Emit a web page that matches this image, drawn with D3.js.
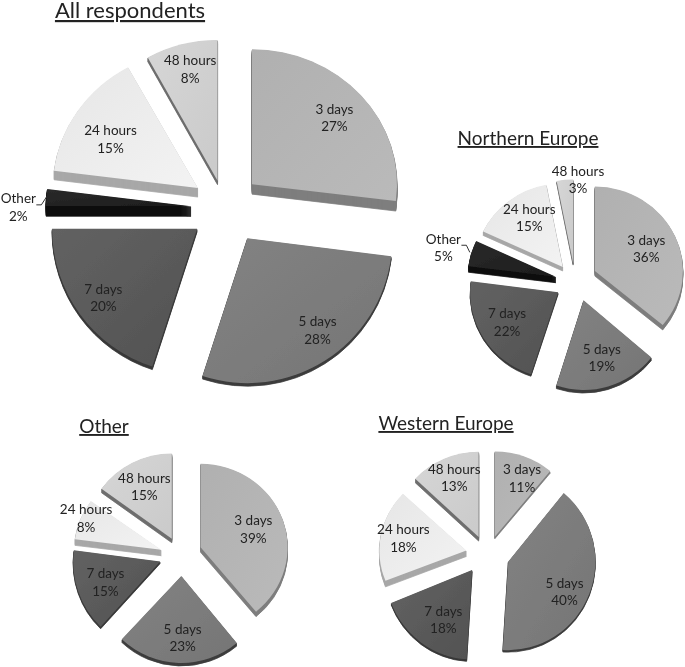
<!DOCTYPE html>
<html><head><meta charset="utf-8">
<script src="https://cdn.jsdelivr.net/npm/d3@7/dist/d3.min.js"></script>
<style>
html,body{margin:0;padding:0;background:#fff}
svg{display:block}
text{font-family:Lato,"Open Sans",sans-serif;fill:#222}
</style></head><body>
<svg id="chart" width="685" height="667"></svg>
<script>
const categories = ["3 days","5 days","7 days","Other","24 hours","48 hours"];
const allRespondents = [27,28,20,2,15,8];
const northernEurope = [36,19,22,5,15,3];
const otherRegion    = [39,23,15,0,8,15];
const westernEurope  = [11,40,18,0,18,13];

const topColors  = [["#b0b0b0","#bababa"],["#838383","#757575"],["#626262","#525252"],["#2a2a2a","#1c1c1c"],["#e6e6e6","#f3f3f3"],["#d6d6d6","#cacaca"]];
const sideColors = ["#7e7e7e","#3c3c3c","#383838","#0c0c0c","#a8a8a8","#6e6e6e"];

const pies = [
 {title:"All respondents",values:allRespondents,cx:222,cy:208,r:145,tilt:.94,titleX:130,titleY:18,titleSize:22,
  explode:[40,38,32,31,34,30],depth:[10,3,3,10,9,4],
  yScale:[.93,1,1,.94,.95,.97],shift:[[0,1],[5,0],[1,3],[0,0],[4,-2],[3,0]],
  nudge:[[15,-10],[27,20],[-20,22],[-83,6],[-9,-4],[-2,-30]]},
 {title:"Northern Europe",values:northernEurope,cx:575,cy:282,r:88,tilt:.95,titleX:528,titleY:145,titleSize:19,
  explode:[22,20,20,20,20,20],depth:[5,3,2,6,4,2],
  yScale:[.96,1.02,.98,.95,.95,.95],shift:[[0,-2],[3,0],[0,0],[0,0],[0,0],[0,0]],
  nudge:[[2,-3],[6,7],[-5,2],[-60,-15],[0,-9],[10,-32]]},
 {title:"Other",values:otherRegion,cx:180,cy:555,r:87,tilt:.95,titleX:104,titleY:433,titleSize:19,
  explode:[24,21,20,0,18,18],depth:[5,3,2,0,6,4],
  yScale:[.96,1,1.03,1,.95,.98],shift:[[-2,0],[2,1],[-1,0],[0,0],[-2,1],[0,-1]],
  nudge:[[0,-1],[5,11],[-5,3],[0,0],[-27,-12],[-3,-8]]},
 {title:"Western Europe",values:westernEurope,cx:485,cy:552,r:87,tilt:.95,titleX:446,titleY:430,titleSize:19,
  explode:[17,24,22,0,20,16],depth:[2,2,2,0,6,4],
  yScale:[.98,1.02,1.03,1,.95,.98],shift:[[4,0],[1,1],[0,1],[0,0],[1,2],[0,-1]],
  nudge:[[13,-11],[7,12],[3,9],[0,0],[-9,-1],[-3,-14]]}
];

const svg = d3.select("#chart");
const defs = svg.append("defs");
const blur = defs.append("filter").attr("id","soft").attr("x","-5%").attr("y","-5%").attr("width","110%").attr("height","110%");
blur.append("feGaussianBlur").attr("stdDeviation",.4);
topColors.forEach((c,i)=>{
  const g = defs.append("linearGradient").attr("id","top"+i).attr("x1","0").attr("y1","0").attr("x2","1").attr("y2","1");
  g.append("stop").attr("offset","0").attr("stop-color",c[0]);
  g.append("stop").attr("offset","1").attr("stop-color",c[1]);
});

const root = svg.append("g").attr("filter","url(#soft)");
const pieGen = d3.pie().sort(null).value(d=>d.value);

pies.forEach(p=>{
  const rows = categories.map((name,i)=>({name,value:p.values[i],i}));
  const arcs = pieGen(rows).filter(a=>a.value>0);
  const arc = d3.arc().innerRadius(0).outerRadius(p.r);
  const g = root.append("g");

  arcs.forEach(a=>{
    const i = a.data.i, mid = (a.startAngle+a.endAngle)/2;
    const sx = Math.sin(mid), sy = -Math.cos(mid)*p.tilt;
    const bx = p.cx+sx*p.explode[i], by = p.cy+sy*p.explode[i];
    const ax = bx+p.shift[i][0], ay = by+p.shift[i][1];
    const path = arc(a);
    d3.range(p.depth[i],0,-1).forEach(k=>{
      g.append("path").attr("d",path).attr("fill",sideColors[i])
        .attr("stroke",sideColors[i]).attr("stroke-width",.8)
        .attr("transform",`translate(${ax},${ay+k}) scale(1,${p.yScale[i]})`);
    });
    g.append("path").attr("d",path).attr("fill",`url(#top${i})`)
      .attr("transform",`translate(${ax},${ay}) scale(1,${p.yScale[i]})`);

    const lx = bx+sx*p.r*.62+p.nudge[i][0], ly = by+sy*p.r*.62+p.nudge[i][1];
    const t = g.append("text").attr("text-anchor","middle").attr("font-size",13.5);
    t.append("tspan").attr("x",lx).attr("y",ly-3.5).text(a.data.name);
    t.append("tspan").attr("x",lx).attr("y",ly+14).text(a.value+"%");

    if(a.data.name==="Other"){
      const ex = ax+sx*p.r*.97, ey = ay+sy*p.r;
      const startX = lx+18, startY = ly-2;
      g.append("path").attr("fill","none").attr("stroke","#333").attr("stroke-width",1)
        .attr("d",d3.line()([[startX,startY],[startX+5,startY],[ex-4,ey-1]]));
    }
  });

  root.append("text").attr("x",p.titleX).attr("y",p.titleY)
    .attr("text-anchor","middle").attr("font-size",p.titleSize)
    .attr("text-decoration","underline").text(p.title);
});
</script></body></html>
